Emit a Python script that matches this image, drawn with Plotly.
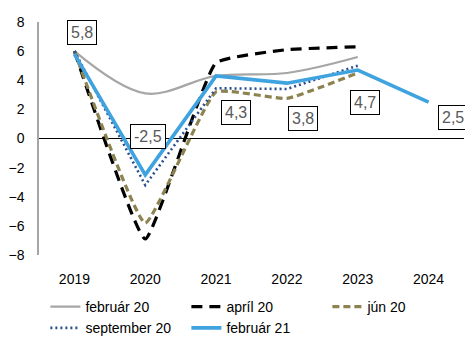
import plotly.graph_objects as go

years = ["2019", "2020", "2021", "2022", "2023", "2024"]

feb20 = [6.0, 3.1, 4.3, 4.5, 5.6]
apr20 = [6.0, -6.9, 5.2, 6.1, 6.3]
jun20 = [6.0, -5.8, 3.2, 2.75, 4.5]
sep20 = [6.0, -3.2, 3.45, 3.4, 5.0]
feb21 = [5.8, -2.5, 4.3, 3.8, 4.7, 2.5]

# label positions for the febrúar 21 values (pixel offsets from each point)
label_shift = [(8, 22), (3, 38), (20, -37), (16, -35), (7, -32), (24, -15)]

font_family = "Liberation Sans, Arial, sans-serif"

fig = go.Figure()

fig.add_trace(go.Scatter(
    x=years[:5], y=feb20, name="február 20", mode="lines",
    line=dict(color="#A6A6A6", width=2.2, shape="spline", smoothing=1.0),
))
fig.add_trace(go.Scatter(
    x=years[:5], y=apr20, name="apríl 20", mode="lines",
    line=dict(color="#000000", width=3.2, dash="11px,7px", shape="spline", smoothing=0.35),
))
fig.add_trace(go.Scatter(
    x=years[:5], y=jun20, name="jún 20", mode="lines",
    line=dict(color="#8C8350", width=3.2, dash="7px,4px", shape="spline", smoothing=0.35),
))
fig.add_trace(go.Scatter(
    x=years[:5], y=sep20, name="september 20", mode="lines",
    line=dict(color="#2A4F8F", width=2.6, dash="2px,3px"),
))
fig.add_trace(go.Scatter(
    x=years, y=feb21, name="február 21", mode="lines",
    line=dict(color="#3FA3E0", width=3.6),
))

# value boxes on the febrúar 21 line (x given as category index)
for i, (val, (dx, dy)) in enumerate(zip(feb21, label_shift)):
    fig.add_annotation(
        x=i, y=val, text=f"{val:.1f}".replace(".", ","),
        showarrow=False, xshift=dx, yshift=dy,
        font=dict(family=font_family, size=16, color="#595959"),
        bgcolor="#FFFFFF", bordercolor="#000000", borderwidth=1, borderpad=3,
    )

fig.update_layout(
    width=465, height=337,
    margin=dict(l=39, r=1, t=22, b=82, autoexpand=False),
    paper_bgcolor="#FFFFFF", plot_bgcolor="#FFFFFF",
    font=dict(family=font_family, size=14, color="#000000"),
    showlegend=True,
    legend=dict(
        orientation="h", x=0.015, xanchor="left", y=-0.155, yanchor="top",
        entrywidth=96, entrywidthmode="pixels",
        font=dict(family=font_family, size=14, color="#000000"),
        tracegroupgap=0, bgcolor="rgba(0,0,0,0)",
    ),
    xaxis=dict(
        type="category", range=[-0.5, 5.5], showgrid=False, showline=False, zeroline=False,
        ticks="", ticklabelstandoff=14,
        tickfont=dict(family=font_family, size=14),
    ),
    yaxis=dict(
        range=[-8, 8], dtick=2, showgrid=False,
        showline=True, linecolor="#A6A6A6", linewidth=1.5,
        zeroline=True, zerolinecolor="#000000", zerolinewidth=1,
        ticks="", ticklabelstandoff=10,
        tickfont=dict(family=font_family, size=14),
    ),
)

fig.write_html("out.html")
